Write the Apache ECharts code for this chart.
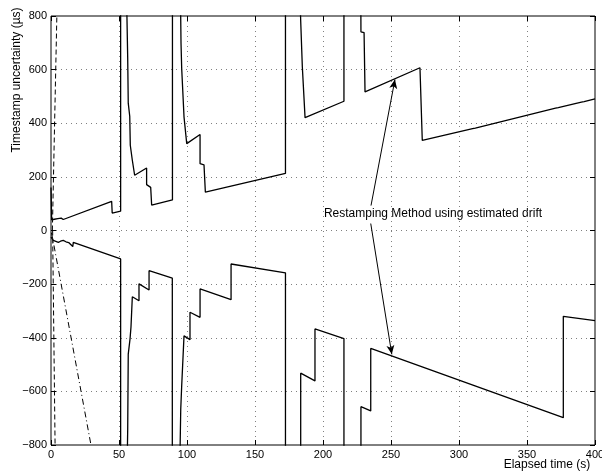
<!DOCTYPE html>
<html>
<head>
<meta charset="utf-8">
<script src="https://cdn.jsdelivr.net/npm/echarts@6/dist/echarts.min.js"></script>
<style>
  html, body { margin: 0; padding: 0; background: #fff; }
  #chart { width: 602px; height: 472px; }
</style>
</head>
<body>
<div id="chart"></div>
<script>
// Upper bound of the restamped timestamp uncertainty (s, µs).
// Values above 800 run off the top of the axes and are clipped.
const upperBound = [
  [0, 160], [0.5, 40], [1.5, 36], [2.5, 42], [3.5, 37], [5, 44], [6, 39], [7.5, 46], [9, 41], [10.3, 35],
  [44.6, 109], [45, 65], [51.2, 72], [51.2, 1000],
  [55.1, 1000], [56.4, 642], [56.8, 475], [57.9, 426], [58.3, 318], [59.8, 262], [61.5, 206],
  [70.3, 233], [70.3, 171], [73.3, 161], [74, 95], [89.3, 114], [89.3, 1000],
  [94.9, 1000], [95.6, 698], [96.1, 604], [97.8, 424], [99.8, 324], [109.6, 358], [109.6, 249],
  [112.5, 245], [113.5, 143], [172.4, 213], [172.4, 1000],
  [182.4, 1000], [183.6, 782], [184.8, 611], [186, 604], [186.8, 421], [215.4, 482], [215.4, 1000],
  [227.7, 1000], [227.9, 741], [230.2, 738], [230.9, 517], [271.3, 607], [272.5, 607], [273, 336],
  [310, 380], [311, 384], [312, 382], [371, 456], [372, 460], [373, 458], [390, 479], [391, 483], [392, 481],
  [400, 491]
];

// Lower bound of the restamped timestamp uncertainty (s, µs).
const lowerBound = [
  [0, -25], [1.7, -37], [3, -33], [5.4, -44], [7, -40], [9, -37], [11, -42], [13, -45], [16, -60], [16.4, -44],
  [51.2, -106], [51.2, -1000],
  [55.6, -1000], [56.4, -741], [56.8, -461], [58.1, -405], [58.8, -361], [59.8, -247], [64.7, -262],
  [64.7, -199], [72.1, -222], [72.1, -150], [89.2, -178], [89.2, -1000],
  [94.3, -1000], [95.4, -667], [96.1, -579], [97.8, -393], [102.2, -407], [102.2, -305], [109.6, -324],
  [109.6, -218], [132.4, -258], [132.4, -125], [172.4, -158], [172.4, -1000],
  [183.6, -1000], [183.6, -532], [194.1, -561], [194.1, -367], [215.4, -403], [215.4, -1000],
  [227.9, -1000], [227.9, -657], [235.1, -673], [235.1, -440], [376.7, -698], [376.7, -320], [400, -336]
];

// Bounds without restamping (dashed) and with a fixed drift (dash-dot).
const dashedUpper = [[1.0, 0], [4.3, 800]];
const dashedLower = [[1.2, 0], [3.0, -800]];
const dashDotLower = [[0.3, -8], [1.5, -37], [29.4, -800]];

// Annotation: arrow tails and heads, in data coordinates.
const arrowTails = [[235.3, 93], [235.1, 26]];
const arrowHeads = [[252.9, 563], [250.6, -462]];
const annotationText = 'Restamping Method using estimated drift';

const xTickInterval = 50;
const yTickInterval = 200;

const FONT = 'Liberation Sans, Arial, Helvetica, sans-serif';
const chart = echarts.init(document.getElementById('chart'), null, { renderer: 'canvas' });

const gridLine = { show: true, lineStyle: { color: '#808080', width: 1, type: [1, 4] } };
const minusFmt = v => String(v).replace('-', '\u2212');
const tick = { show: true, inside: true, length: 5, lineStyle: { color: '#000' } };
const noLine = { show: false, onZero: false };

const lineSeries = (name, data, type, width) => ({
  name, type: 'line', data, xAxisIndex: 0, yAxisIndex: 0,
  symbol: 'none', showSymbol: false, clip: true, silent: true,
  lineStyle: { color: '#000', width, type },
  emphasis: { disabled: true }
});

const upper = lineSeries('upper', upperBound, 'solid', 1.3);
upper.markLine = {
  silent: true,
  symbol: ['none', 'arrow'],
  symbolSize: [6, 9],
  label: { show: false },
  lineStyle: { color: '#000', width: 1, type: 'solid' },
  emphasis: { disabled: true },
  data: arrowTails.map((t, i) => [{ coord: t }, { coord: arrowHeads[i] }])
};

chart.setOption({
  animation: false,
  backgroundColor: '#fff',
  grid: {
    left: 51, right: 7, top: 16, bottom: 27,
    outerBoundsMode: 'none', containLabel: false,
    show: true, borderColor: '#000', borderWidth: 1, backgroundColor: 'transparent'
  },
  xAxis: [
    {
      type: 'value', min: 0, max: 400, interval: xTickInterval, position: 'bottom',
      axisLine: noLine, axisTick: tick,
      axisLabel: { color: '#000', fontFamily: FONT, fontSize: 11, margin: 4, formatter: minusFmt },
      splitLine: gridLine
    },
    {
      type: 'value', min: 0, max: 400, interval: xTickInterval, position: 'top',
      axisLine: noLine, axisTick: tick,
      axisLabel: { show: false }, splitLine: { show: false }
    }
  ],
  yAxis: [
    {
      type: 'value', min: -800, max: 800, interval: yTickInterval, position: 'left',
      axisLine: noLine, axisTick: tick,
      axisLabel: { color: '#000', fontFamily: FONT, fontSize: 11, margin: 4, formatter: minusFmt },
      splitLine: gridLine
    },
    {
      type: 'value', min: -800, max: 800, interval: yTickInterval, position: 'right',
      axisLine: noLine, axisTick: tick,
      axisLabel: { show: false }, splitLine: { show: false }
    }
  ],
  series: [
    lineSeries('dashedUpper', dashedUpper, [5, 3], 1),
    lineSeries('dashedLower', dashedLower, [5, 3], 1),
    lineSeries('dashDot', dashDotLower, [6, 3, 1, 3], 1),
    upper,
    lineSeries('lower', lowerBound, 'solid', 1.3)
  ],
  graphic: [
    {
      type: 'text', x: 17, y: 80, rotation: Math.PI / 2,
      style: { text: 'Timestamp uncertainty (µs)', font: '12px ' + FONT, fill: '#000', align: 'center', verticalAlign: 'middle' }
    },
    {
      type: 'text', x: 547, y: 465,
      style: { text: 'Elapsed time (s)', font: '12px ' + FONT, fill: '#000', align: 'center', verticalAlign: 'middle' }
    },
    {
      type: 'text', x: 433, y: 214,
      style: { text: annotationText, font: '12px ' + FONT, fill: '#000', align: 'center', verticalAlign: 'middle' }
    }
  ]
});
</script>
</body>
</html>
